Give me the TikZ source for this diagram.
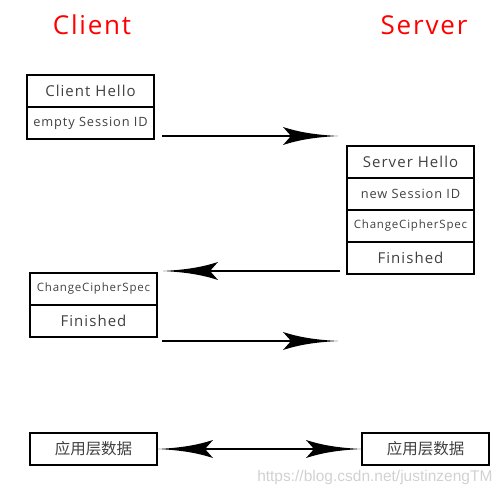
\documentclass[tikz,border=0pt]{standalone}
\usepackage{fontspec}
\setmainfont{Open Sans}[LetterSpace=7]
\newfontfamily\cjkfont{Noto Sans CJK SC}
\newfontfamily\wmfont{Liberation Sans}
\definecolor{txt}{HTML}{404040}
\begin{document}
\begin{tikzpicture}[x=1pt,y=-1pt,
  cell/.style={draw=black,line width=2pt,minimum width=127pt,minimum height=32pt,inner sep=0pt,text=txt},
  big/.style={font=\fontsize{15}{16}\selectfont},
  mid/.style={font=\fontsize{12.8}{14}\selectfont},
  small/.style={font=\fontsize{11.5}{12}\selectfont},
  shaft/.style={line width=2.6pt},
  ahead/.pic={\fill[black] (0,0) .. controls (-22,1.2) and (-38,3.5) .. (-55,9) -- (-47,0) -- (-55,-9) .. controls (-38,-3.5) and (-22,-1.2) .. (0,0);},
  title/.style={text=red,font=\fontsize{26}{28}\selectfont}]
\useasboundingbox (0,0) rectangle (504,494);
\node[title] (client) at (92,25) {Client};
\node[title] (server) at (424,25) {Server};
% client hello
\node[cell,big] (ch) at (90.5,91) {Client Hello};
\node[cell,mid] (esid) at (90.5,123) {empty Session ID};
% server
\node[cell,big] (sh) at (410.5,162) {Server Hello};
\node[cell,mid] (nsid) at (410.5,194) {new Session ID};
\node[cell,small] (sccs) at (410.5,226) {ChangeCipherSpec};
\node[cell,big] (sfin) at (410.5,258) {Finished};
% client 2
\node[cell,small] (cccs) at (93.5,289) {ChangeCipherSpec};
\node[cell,big] (cfin) at (93.5,321) {Finished};
% app data
\node[cell,font=\cjkfont\fontsize{15.5}{16}\selectfont] (appc) at (93.5,449) {应用层数据};
\node[cell,font=\cjkfont\fontsize{15.5}{16}\selectfont] (apps) at (425.5,449) {应用层数据};
% arrow ends
\coordinate (a1s) at (162,136);
\coordinate (a1e) at (338,136);
\coordinate (a2s) at (340,271);
\coordinate (a2e) at (163,271);
\coordinate (a3s) at (162,341);
\coordinate (a3e) at (338,341);
\coordinate (a4s) at (158,449);
\coordinate (a4e) at (361,449);
\draw[shaft] (a1s) -- ([xshift=-20pt]a1e);
\pic at (a1e) {ahead};
\draw[shaft] (a2s) -- ([xshift=20pt]a2e);
\pic[rotate=180] at (a2e) {ahead};
\draw[shaft] (a3s) -- ([xshift=-20pt]a3e);
\pic at (a3e) {ahead};
\draw[shaft] ([xshift=20pt]a4s) -- ([xshift=-20pt]a4e);
\pic at (a4e) {ahead};
\pic[rotate=180] at (a4s) {ahead};
\node[text=black!18,font=\wmfont\fontsize{15.5}{16}\selectfont,anchor=east] (wm) at (496,477) {https://blog.csdn.net/justinzengTM};
\end{tikzpicture}
\end{document}
